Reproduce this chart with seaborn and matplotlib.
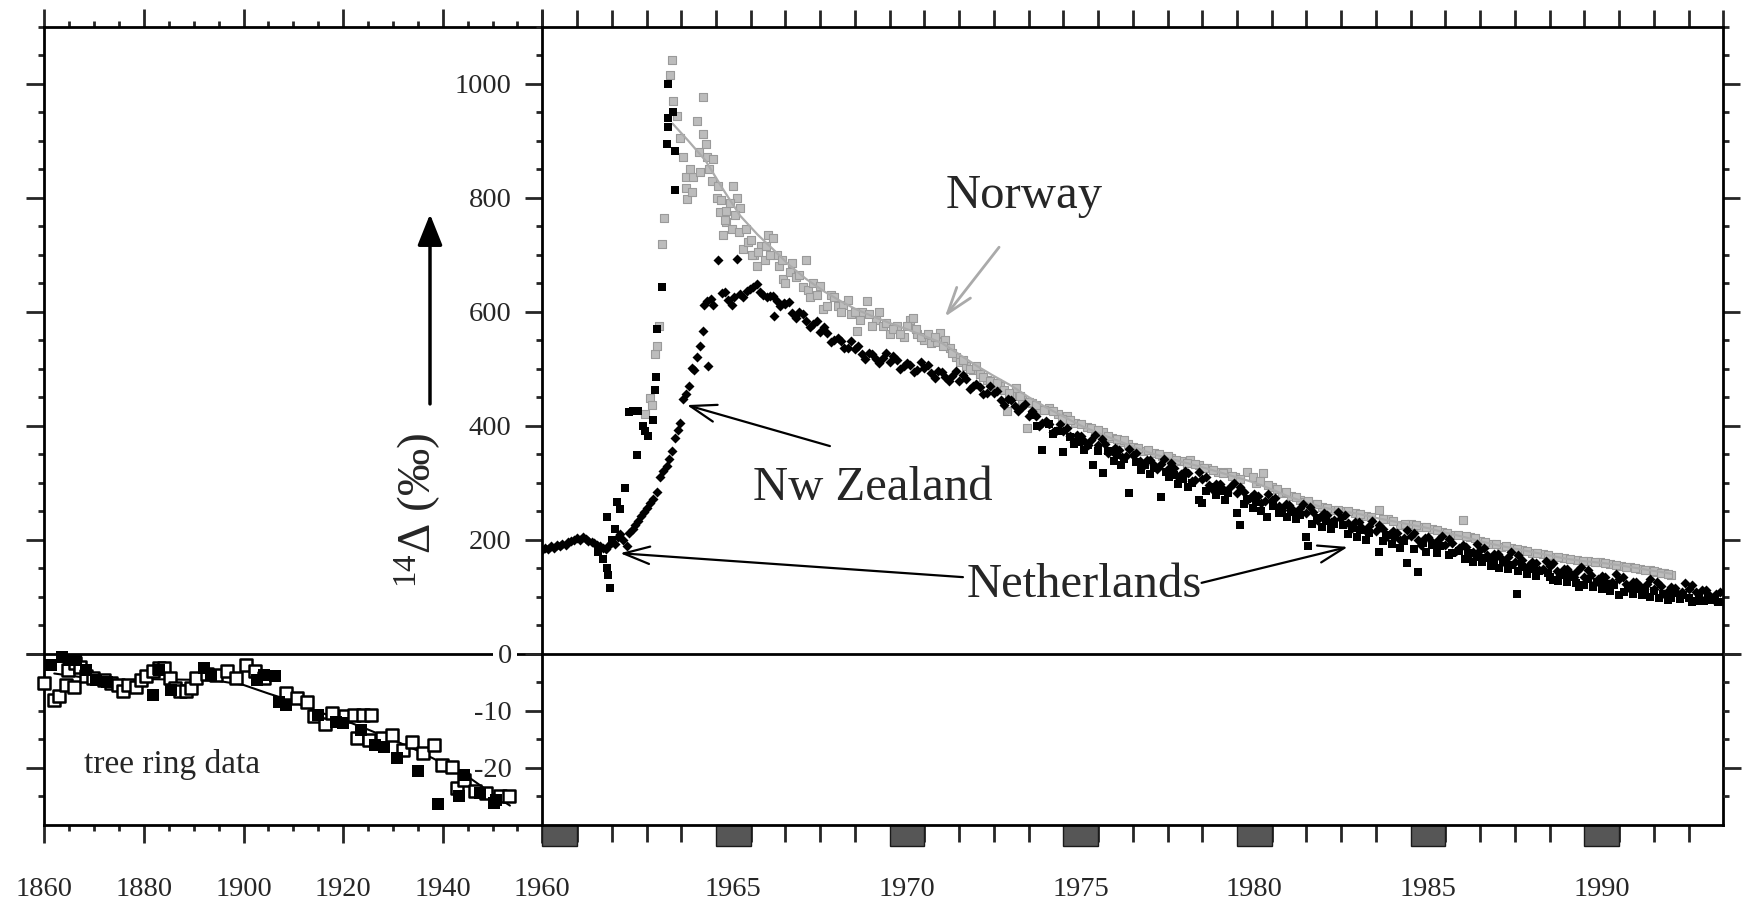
import matplotlib
matplotlib.use("Agg")
import matplotlib.pyplot as plt
import seaborn as sns
from matplotlib.ticker import MultipleLocator
from matplotlib.patches import Rectangle

# ---------------- data ----------------
# New Zealand (black diamonds)
nz_year = [1960.00,1960.08,1960.17,1960.25,1960.33,1960.42,1960.50,1960.58,1960.67,1960.75,1960.83,1960.92,
           1961.00,1961.08,1961.17,1961.25,1961.33,1961.42,1961.50,1961.58,1961.67,1961.75,1961.83,1961.92,
           1962.00,1962.08,1962.17,1962.25,1962.33,1962.43,1962.50,
           1962.60,1962.68,1962.76,1962.85,1962.92,
           1963.00,1963.10,1963.20,1963.30,1963.40,1963.48,1963.58,1963.66,1963.72,1963.82,1963.90,1963.96,
           1964.06,1964.15,1964.22,1964.30,1964.36,1964.44,1964.55,1964.62,1964.66,1964.73,1964.78,1964.85,1964.92,
           1965.07,1965.18,1965.26,1965.35,1965.45,1965.52,1965.60,1965.69,1965.78,1965.88,1965.97,
           1966.07,1966.17,1966.27,1966.36,1966.46,1966.56,1966.65,1966.68,1966.76,1966.85,1966.95,
           1967.0,1967.2,1967.4,1967.6,1967.8, 1968.0,1968.2,1968.4,1968.6,1968.8,
           1969.0,1969.2,1969.4,1969.6,1969.8, 1970.0,1970.2,1970.4,1970.6,1970.8,
           1971.0,1971.2,1971.4,1971.6,1971.8, 1972.0,1972.2,1972.4,1972.6,1972.8,
           1973.0,1973.2,1973.4,1973.6,1973.8, 1974.0,1974.2,1974.4,1974.6,1974.8,
           1975.0,1975.2,1975.4,1975.6,1975.8, 1976.0,1976.2,1976.4,1976.6,1976.8,
           1977.0,1977.2,1977.4,1977.6,1977.8, 1978.0,1978.2,1978.4,1978.6,1978.8,
           1979.0,1979.2,1979.4,1979.6,1979.8, 1980.0,1980.2,1980.4,1980.6,1980.8,
           1981.0,1981.2,1981.4,1981.6,1981.8, 1982.0,1982.2,1982.4,1982.6,1982.8,
           1983.0,1983.2,1983.4,1983.6,1983.8, 1984.0,1984.2,1984.4,1984.6,1984.8,
           1985.0,1985.2,1985.4,1985.6,1985.8, 1986.0,1986.2,1986.4,1986.6,1986.8,
           1987.0,1987.2,1987.4,1987.6,1987.8, 1988.0,1988.2,1988.4,1988.6,1988.8,
           1989.0,1989.2,1989.4,1989.6,1989.8, 1990.0,1990.2,1990.4,1990.6,1990.8,
           1991.0,1991.2,1991.4,1991.6,1991.8, 1992.0,1992.2,1992.4,1992.6,1992.8,
           1993.0,1993.2,1993.4,1993.6,1993.8]
nz_value = [182,185,184,188,186,190,189,193,191,195,197,200,
            202,199,204,201,198,196,194,190,188,186,184,190,
            196,192,205,209,200,189,212,
            218,226,232,241,248,
            255,264,272,284,310,320,329,342,355,378,392,404,
            446,455,469,501,498,521,540,566,612,618,505,622,612,
            690,632,635,620,612,625,693,631,625,636,640,
            644,648,635,630,625,628,628,592,618,610,615,
            614,598,599,583,579, 565,563,550,549,537,
            535,525,527,517,519, 511,515,505,507,497,
            501,492,495,485,487, 479,481,469,468,457,
            457,445,446,434,433, 417,416,404,403,391,
            391,381,383,373,375, 366,367,356,357,346,
            348,338,340,331,333, 324,325,315,316,305,
            306,296,298,289,292, 282,284,274,277,267,
            269,259,262,252,255, 246,249,240,243,234,
            238,229,231,221,224, 215,218,209,212,203,
            207,199,203,196,199, 190,194,185,187,178,
            181,172,175,167,170, 161,164,155,158,149,
            153,145,149,141,144, 135,138,130,134,126,
            130,122,126,118,122, 114,118,110,115,108,
            113,108,111,102,105]
nz_year_b = [1967.1,1967.3,1967.5,1967.7,1967.9, 1968.1,1968.3,1968.5,1968.7,1968.9,
             1969.1,1969.3,1969.5,1969.7,1969.9, 1970.1,1970.3,1970.5,1970.7,1970.9,
             1971.1,1971.3,1971.5,1971.7,1971.9, 1972.1,1972.3,1972.5,1972.7,1972.9,
             1973.1,1973.3,1973.5,1973.7,1973.9, 1974.1,1974.3,1974.5,1974.7,1974.9,
             1975.1,1975.3,1975.5,1975.7,1975.9, 1976.1,1976.3,1976.5,1976.7,1976.9,
             1977.1,1977.3,1977.5,1977.7,1977.9, 1978.1,1978.3,1978.5,1978.7,1978.9,
             1979.1,1979.3,1979.5,1979.7,1979.9, 1980.1,1980.3,1980.5,1980.7,1980.9,
             1981.1,1981.3,1981.5,1981.7,1981.9, 1982.1,1982.3,1982.5,1982.7,1982.9,
             1983.1,1983.3,1983.5,1983.7,1983.9, 1984.1,1984.3,1984.5,1984.7,1984.9,
             1985.1,1985.3,1985.5,1985.7,1985.9, 1986.1,1986.3,1986.5,1986.7,1986.9,
             1987.1,1987.3,1987.5,1987.7,1987.9, 1988.1,1988.3,1988.5,1988.7,1988.9,
             1989.1,1989.3,1989.5,1989.7,1989.9, 1990.1,1990.3,1990.5,1990.7,1990.9,
             1991.1,1991.3,1991.5,1991.7,1991.9, 1992.1,1992.3,1992.5,1992.7,1992.9,
             1993.1,1993.3,1993.5,1993.7,1993.9]
nz_value_b = [617,589,595,573,584, 573,547,554,536,548,
              539,516,526,510,527, 522,500,510,494,511,
              506,484,494,478,495, 489,465,473,455,469,
              460,436,445,426,437, 426,400,408,389,403,
              395,372,382,366,383, 376,352,361,344,359,
              352,329,340,324,341, 334,310,320,303,318,
              310,287,298,283,299, 292,269,280,264,280,
              273,251,261,246,263, 257,235,246,231,248,
              243,220,230,215,232, 226,204,215,200,217,
              212,191,204,190,207, 201,180,190,175,192,
              186,164,175,161,178, 172,150,161,146,163,
              158,137,149,135,152, 146,124,136,122,140,
              135,114,126,112,130, 125,104,117,104,123,
              120,100,111,96,108]

# Netherlands (black squares)
nl_year = [1961.60,1961.75,1961.85,1961.85,1961.90,1961.95,1962.00,1962.10,1962.15,1962.24,1962.38,1962.50,
           1962.60,1962.72,1962.76,1962.90,1962.95,1963.05,1963.20,1963.24,1963.27,1963.30,1963.44,
           1963.58,1963.63,1963.63,1963.63,1963.77,1963.82,1963.82,
           1974.10,1974.40,1974.60,1974.85,1975.00,1975.20,1975.45,1975.70,1975.86,1976.15,1976.30,1976.55,
           1976.75,1976.90,1977.10,1977.35,1977.60,1977.80,1977.95,1978.20,1978.45,1978.70,1978.90,1979.00,
           1979.25,1979.50,1979.75,1980.00,1980.10,1980.30,1980.55,1980.85,1981.05,1981.30,1981.55,1981.80,
           1982.00,1982.05,1982.30,1982.55,1982.80,1983.05,1983.30,1983.55,1983.80,1984.10,1984.30,1984.55,
           1984.80,1984.90,1985.20,1985.35,1985.60,1985.85,1986.20,1986.40,1986.65,1986.90,1987.15,1987.40,
           1987.65,1987.90,1988.05,1988.20,1988.45,1988.70,1988.95,1989.10,1989.35,1989.60,1989.85,1990.10,
           1990.35,1990.60,1990.85,1991.00,1991.25,1991.50,1991.75,1992.00,1992.25,1992.40,1992.60,1992.85,
           1993.10,1993.30,1993.55,1993.75,1993.95]
nl_value = [178,165,150,240,137,115,199,218,265,254,290,423,
            425,349,426,400,391,381,410,462,485,570,644,
            895,924,940,999,950,882,813,
            418,357,402,390,354,380,372,366,331,316,356,348,
            342,281,336,330,326,275,318,314,306,300,270,264,
            292,286,282,246,226,272,266,240,258,252,248,243,
            205,188,238,233,228,226,220,216,212,179,208,204,
            198,158,143,194,190,188,176,180,176,170,168,163,
            160,156,105,152,149,145,142,129,138,134,117,130,
            126,122,120,102,118,114,112,109,104,94,106,103,
            91,104,99,96,91]
nl_year_b = [1974.25,1974.70,1975.30,1975.60,1976.00,1976.45,1976.65,1977.25,1977.50,1978.05,1978.30,1978.60,
             1979.10,1979.40,1979.65,1980.20,1980.45,1980.70,1981.20,1981.45,1981.70,1982.15,1982.45,1982.70,
             1983.20,1983.45,1983.70,1984.20,1984.45,1984.70,1985.10,1985.45,1985.75,1986.10,1986.55,1986.80,
             1987.05,1987.30,1987.55,1987.80,1988.10,1988.35,1988.60,1989.00,1989.25,1989.50,1989.75,1990.00,
             1990.25,1990.50,1990.75,1991.15,1991.40,1991.65,1991.90,1992.15,1992.50,1992.75,1993.00,1993.20,
             1993.45,1993.65,1993.85]
nl_value_b = [400,385,368,358,355,338,330,322,315,310,298,292,
              285,278,270,262,255,250,246,240,236,228,222,218,
              210,204,200,198,192,186,184,178,176,172,166,160,
              160,154,150,148,144,140,136,134,128,126,124,120,
              116,113,110,108,104,103,100,98,97,95,98,93,
              92,94,90]

# Norway (grey squares)
no_year = [1962.95,1963.10,1963.15,1963.25,1963.30,1963.35,1963.44,1963.49,1963.68,1963.72,1963.77,1963.87,
           1963.96,1964.06,1964.15,1964.15,1964.18,1964.35,1964.44,1964.64,1964.64,1964.70,1964.73,1964.92,
           1964.88,1965.02,1965.12,1965.30,1965.20,1965.30,1965.50,1965.60,1965.70,1965.79,1965.93,1966.10,
           1966.17,1966.30,1966.50,1966.65,1966.75,1966.94,1967.13,1967.30,1967.50,1967.60,1967.65,1967.80,
           1968.09,1968.30,1968.50,1968.67,1968.90,1969.05,1969.20,1969.34,1969.60,1969.80,1970.00,1970.20,
           1970.40,1970.60,1970.67,1970.80,1971.00,1971.20,1971.35,1971.45,1971.60,1971.74,1971.90,1972.02,
           1972.20,1972.40,1972.60,1972.80,1973.00,1973.17,1973.37,1973.50,1973.65,1973.80,1973.94,1974.10,
           1974.30,1974.60,1974.85,1975.10,1975.35,1975.67,1975.90,1976.15,1976.40,1976.65,1976.85,1977.00,
           1977.30,1977.60,1977.85,1978.10,1978.40,1978.65,1978.90,1979.15,1979.45,1979.70,1979.95,1980.30,
           1980.55,1980.75,1981.00,1981.30,1981.55,1981.80,1981.95,1982.20,1982.45,1982.77,1983.00,1983.40,
           1983.70,1984.10,1984.35,1984.70,1985.00,1985.30,1985.60,1985.90,1986.20,1986.50,1986.70,1987.00,
           1987.30,1987.60,1987.90,1988.20,1988.50,1988.80,1989.10,1989.40,1989.80,1990.10,1990.45,1990.75,
           1991.05,1991.30,1991.60,1991.90,1992.10,1992.30,1992.50]
no_value = [420,449,436,525,540,575,719,765,1015,1041,969,943,
            904,872,836,817,797,836,934,976,911,894,872,868,
            830,800,774,777,735,758,820,800,781,709,722,700,
            680,715,735,729,700,657,670,660,644,690,638,650,
            605,630,610,612,595,566,600,618,585,575,560,575,
            555,586,589,560,550,545,547,562,550,536,520,512,
            505,498,490,480,470,469,425,455,466,445,395,440,
            428,431,420,416,405,398,392,388,378,372,368,363,
            355,351,347,343,338,340,330,325,318,319,310,319,
            300,316,292,282,276,270,266,262,257,252,250,246,
            242,252,236,225,228,222,219,214,208,234,204,198,
            193,187,186,182,176,174,170,167,164,163,161,157,
            154,152,149,146,143,141,138]
no_year_b = [1964.25,1964.30,1964.50,1964.55,1964.80,1965.05,1965.15,1965.25,1965.40,1965.45,1965.55,1965.65,
             1965.85,1966.00,1966.05,1966.20,1966.40,1966.45,1966.55,1966.80,1966.90,1967.00,1967.20,1967.40,
             1967.70,1967.90,1968.00,1968.20,1968.40,1968.60,1968.80,1969.00,1969.15,1969.40,1969.50,1969.70,
             1969.90,1970.10,1970.30,1970.50,1970.75,1970.90,1971.10,1971.30,1971.55,1971.80,1972.10,1972.30,
             1972.50,1972.70,1972.90,1973.10,1973.30,1973.45,1973.75,1974.00,1974.20,1974.45,1974.70,1974.95,
             1975.20,1975.50,1975.80,1976.00,1976.30,1976.55,1976.75,1977.15,1977.45,1977.75,1978.00,1978.25,
             1978.55,1978.80,1979.05,1979.30,1979.60,1979.85,1980.10,1980.45,1980.65,1980.90,1981.15,1981.40,
             1981.70,1982.05,1982.30,1982.60,1982.90,1983.20,1983.55,1983.85,1984.20,1984.50,1984.85,1985.15,
             1985.45,1985.75,1986.05,1986.35,1986.60,1986.85,1987.15,1987.45,1987.75,1988.05,1988.35,1988.65,
             1988.95,1989.25,1989.60,1989.95,1990.30,1990.60,1990.90,1991.20,1991.45,1991.75,1992.00,1992.20,
             1992.40]
no_value_b = [850,810,880,845,850,820,795,760,790,745,770,740,
              745,725,700,705,690,715,700,680,690,650,685,665,
              625,630,645,610,625,600,620,600,585,595,575,600,
              580,570,560,575,570,555,560,555,540,528,515,500,
              505,485,478,475,462,458,452,442,436,428,425,412,
              410,402,396,392,382,376,374,360,358,350,346,340,
              334,332,326,322,316,312,306,310,302,296,288,284,
              274,268,262,256,252,250,244,240,236,232,228,226,
              222,216,212,208,206,202,196,192,188,184,180,176,
              172,170,166,163,160,158,156,152,150,147,144,142,
              140]

# Norway smoothed curve (grey line)
no_line_year = [1963.75,1964.2,1964.7,1965.2,1965.7,1966.2,1966.65,1967.1,1967.6,1968.1,1968.6,1969.0,1969.5,
                1970.0,1970.5,1971.0,1971.5,1972.0,1972.5,1973.0,1973.5,1974.0,1974.5,1975.0,1975.5,1976.0,
                1976.5,1977.0,1977.5,1978.0,1978.5,1979.0,1979.5,1980.0,1980.5,1981.0,1981.5,1982.0,1982.5,
                1983.0,1983.5,1984.0,1984.5,1985.0,1985.5,1986.0,1986.5,1987.0,1987.5,1988.0,1988.5,1989.0,
                1989.5,1990.0,1990.5,1991.0,1991.5,1992.0,1992.5]
no_line_value = [930,900,865,815,768,735,709,682,657,636,618,605,592,580,569,557,545,525,505,487,470,450,432,
                 416,400,387,375,363,352,343,335,327,318,309,300,288,275,265,256,250,245,238,232,226,220,212,
                 205,197,190,184,178,172,166,162,159,155,150,145,140]

# tree ring data (lower left panel)
tree_open_year = [1859.9,1861.9,1863.0,1864.4,1864.7,1865.9,1866.2,1867.2,1868.3,1869.7,1871.9,1873.3,1874.8,
                  1875.8,1876.9,1878.4,1879.4,1880.5,1881.9,1883.0,1884.1,1885.2,1886.2,1887.3,1888.4,1889.5,
                  1890.5,1892.7,1894.5,1896.6,1898.4,1900.6,1902.4,1904.2,1908.5,1910.7,1912.8,1914.2,1916.4,
                  1917.8,1920.3,1922.1,1923.9,1925.7,1922.8,1925.3,1927.8,1929.9,1932.1,1933.9,1936.1,1938.2,
                  1939.9,1941.8,1942.9,1944.3,1946.5,1948.6,1951.5,1953.3]
tree_open_value = [-5.2,-8.1,-7.5,-5.5,-2.9,-5.8,-1.7,-2.3,-4.0,-4.3,-4.6,-5.2,-5.5,-6.6,-5.5,-5.8,-4.6,-4.0,
                   -3.1,-2.5,-2.5,-4.3,-6.1,-6.6,-6.6,-6.1,-4.3,-3.5,-3.7,-3.1,-4.3,-2.0,-3.1,-4.3,-6.9,-7.8,
                   -8.4,-11.0,-12.4,-10.4,-11.0,-10.7,-10.7,-10.7,-14.8,-15.1,-14.8,-14.2,-16.9,-15.4,-17.4,
                   -16.0,-19.5,-19.8,-23.6,-22.1,-24.1,-24.4,-25.0,-25.0]
tree_fill_year = [1861.4,1863.6,1865.0,1866.4,1868.3,1870.4,1872.6,1881.9,1883.0,1885.5,1892.0,1893.4,1902.8,
                  1904.2,1906.4,1907.1,1908.5,1915.0,1918.6,1920.0,1923.6,1926.5,1928.3,1930.8,1935.0,1939.0,
                  1943.3,1944.3,1947.5,1950.4,1950.8]
tree_fill_value = [-2.0,-0.6,-1.2,-1.2,-2.9,-4.6,-4.9,-7.2,-2.9,-6.4,-2.5,-3.7,-4.6,-3.7,-4.0,-8.4,-9.0,-10.7,
                   -11.9,-12.1,-13.3,-16.0,-16.3,-18.3,-20.6,-26.4,-25.0,-21.3,-24.4,-26.1,-25.6]
tree_line_year = [1862,1868,1875,1882,1890,1895,1900,1905,1910,1915,1920,1925,1930,1935,1940,1945,1950,1953.5]
tree_line_value = [-3.5,-4.2,-4.8,-4.5,-4.6,-4.8,-5.5,-7.0,-8.4,-10.2,-11.6,-13.3,-15.1,-17.0,-19.2,-21.5,-24.6,-26.6]

# axis labels / ticks
left_xticks = [1860, 1880, 1900, 1920, 1940, 1960]
right_label_years = [1965, 1970, 1975, 1980, 1985, 1990]
box_years = [1960, 1965, 1970, 1975, 1980, 1985, 1990]
upper_yticks = [0, 200, 400, 600, 800, 1000]

# ---------------- style ----------------
sns.set_style("ticks")
plt.rcParams["font.family"] = ["Liberation Serif", "DejaVu Serif"]
plt.rcParams["mathtext.fontset"] = "custom"
plt.rcParams["mathtext.rm"] = "Liberation Serif"
plt.rcParams["mathtext.it"] = "Liberation Serif:italic"

W, H = 1747, 902
fig = plt.figure(figsize=(W / 100, H / 100), dpi=100)
fig.patch.set_facecolor("white")


def rect(x0, x1, y0, y1):
    return [x0 / W, 1 - y1 / H, (x1 - x0) / W, (y1 - y0) / H]


XL, XD, XR = 44.3, 542.3, 1723.3
YT, YZ, YB = 26.7, 653.5, 825.0
axLT = fig.add_axes(rect(XL, XD, YT, YZ))
axLB = fig.add_axes(rect(XL, XD, YZ, YB))
axRT = fig.add_axes(rect(XD, XR, YT, YZ))
axRB = fig.add_axes(rect(XD, XR, YZ, YB))

# ---------------- plotting ----------------
sns.lineplot(x=tree_line_year, y=tree_line_value, ax=axLB, color="black", linewidth=1.5,
             sort=False, estimator=None, zorder=3)
sns.scatterplot(x=tree_open_year, y=tree_open_value, ax=axLB, marker="s", s=70,
                facecolor="white", edgecolor="black", linewidth=1.8, zorder=4, clip_on=False, legend=False)
sns.scatterplot(x=tree_fill_year, y=tree_fill_value, ax=axLB, marker="s", s=70,
                color="black", linewidth=0, zorder=5, clip_on=False, legend=False)

sns.scatterplot(x=no_year + no_year_b, y=no_value + no_value_b, ax=axRT, marker="s", s=30,
                color="#bcbcbc", edgecolor="#9a9a9a", linewidth=0.8, zorder=3, legend=False)
sns.lineplot(x=no_line_year, y=no_line_value, ax=axRT, color="#ababab", linewidth=1.6,
             sort=False, estimator=None, zorder=4)
sns.scatterplot(x=nz_year + nz_year_b, y=nz_value + nz_value_b, ax=axRT, marker="D", s=26,
                color="black", linewidth=0, zorder=5, legend=False)
sns.scatterplot(x=nl_year + nl_year_b, y=nl_value + nl_value_b, ax=axRT, marker="s", s=38,
                color="black", linewidth=0, zorder=6, legend=False)

# ---------------- axes formatting ----------------
for ax in (axLT, axLB, axRT, axRB):
    ax.set_facecolor("none")
    ax.set_xlabel("")
    ax.set_ylabel("")
    for s in ax.spines.values():
        s.set_linewidth(2.0)
        s.set_color("black")

MAJ, MIN, W2 = 13, 4.5, 2.0
FS = 20.5

# left top
axLT.set_xlim(1860, 1960)
axLT.set_ylim(0, 1100)
axLT.spines["right"].set_visible(False)
axLT.spines["bottom"].set_visible(False)
axLT.xaxis.set_ticks_position("top")
axLT.yaxis.set_ticks_position("left")
axLT.xaxis.set_major_locator(MultipleLocator(20))
axLT.xaxis.set_minor_locator(MultipleLocator(5))
axLT.yaxis.set_major_locator(MultipleLocator(200))
axLT.yaxis.set_minor_locator(MultipleLocator(50))
axLT.tick_params(which="both", direction="out", width=W2, labeltop=False, labelleft=False,
                 labelbottom=False)
axLT.tick_params(which="major", length=MAJ)
axLT.tick_params(which="minor", length=MIN)

# left bottom
axLB.set_xlim(1860, 1960)
axLB.set_ylim(-30, 0)
axLB.spines["right"].set_visible(False)
axLB.xaxis.set_ticks_position("bottom")
axLB.yaxis.set_ticks_position("left")
axLB.set_xticks(left_xticks, labels=[str(v) for v in left_xticks])
axLB.xaxis.set_minor_locator(MultipleLocator(5))
axLB.set_yticks([-20, 0])
axLB.set_yticks([-25, -15, -10, -5], minor=True)
axLB.tick_params(which="both", direction="out", width=W2, labelleft=False)
axLB.tick_params(which="major", length=MAJ)
axLB.tick_params(which="minor", length=MIN)
axLB.tick_params(axis="x", which="major", labelsize=FS, pad=24.5)

# right top
axRT.set_xlim(1960, 1994)
axRT.set_ylim(0, 1100)
axRT.spines["bottom"].set_visible(False)
axRT.xaxis.set_ticks_position("top")
axRT.xaxis.set_major_locator(MultipleLocator(1))
axRT.yaxis.set_ticks_position("both")
axRT.set_yticks(upper_yticks, labels=[""] + [str(v) for v in upper_yticks[1:]])
axRT.yaxis.set_minor_locator(MultipleLocator(50))
axRT.tick_params(which="both", direction="out", width=W2, labeltop=False, labelright=False)
axRT.tick_params(which="major", length=12.5)
axRT.tick_params(which="minor", length=4)
axRT.tick_params(axis="y", which="major", labelsize=FS, pad=9.5)
axRT.annotate("0", xy=(0, 0), xycoords=("axes fraction", "data"), xytext=(-22, 0),
              textcoords="offset points", ha="right", va="center_baseline", fontsize=FS,
              bbox=dict(fc="white", ec="none", pad=3.5), annotation_clip=False, zorder=20)

# right bottom
axRB.set_xlim(1960, 1994)
axRB.set_ylim(-30, 0)
axRB.xaxis.set_ticks_position("bottom")
axRB.set_xticks([y + 0.5 for y in right_label_years], labels=[str(y) for y in right_label_years])
year_ticks = [y for y in range(1961, 1994) if y not in box_years]
axRB.set_xticks(year_ticks, minor=True)
axRB.yaxis.set_ticks_position("left")
axRB.set_yticks([-20, -10], labels=["-20", "-10"])
axRB.set_yticks([-25, -15, -5], minor=True)
axRB.tick_params(which="both", direction="out", width=W2)
axRB.tick_params(axis="x", which="major", length=0, labelsize=FS, pad=37.5)
axRB.tick_params(axis="x", which="minor", length=12)
axRB.tick_params(axis="y", which="major", length=12.5, labelsize=FS, pad=9.5)
axRB.tick_params(axis="y", which="minor", length=4)
for yr in box_years:
    axRB.add_patch(Rectangle((yr, -0.1225), 1, 0.1225, transform=axRB.get_xaxis_transform(),
                             facecolor="#565656", edgecolor="#1a1a1a", linewidth=1, clip_on=False))

axRB2 = axRB.twinx()
axRB2.set_ylim(-30, 0)
for s in axRB2.spines.values():
    s.set_visible(False)
axRB2.set_yticks([-20, 0], labels=["", ""])
axRB2.set_yticks([-25, -15, -10, -5], minor=True)
axRB2.tick_params(which="both", direction="out", width=W2, labelright=False)
axRB2.tick_params(which="major", length=MAJ)
axRB2.tick_params(which="minor", length=MIN)

# ---------------- annotations ----------------
axLB.text(1868.0, -20.9, "tree ring data", fontsize=24, ha="left", va="baseline")

axLT.annotate("", xy=(1937.45, 771), xytext=(1937.45, 438),
              arrowprops=dict(arrowstyle="-|>,head_length=0.95,head_width=0.38", lw=2.5,
                              color="black", mutation_scale=20, shrinkA=0, shrinkB=0))
axLT.text(1935.0, 252, r"$^{14}$Δ (‰)", rotation=90, ha="center", va="center", fontsize=34)

arrow_kw = dict(arrowstyle="->,head_length=0.75,head_width=0.25", lw=1.6, color="black",
                mutation_scale=25, shrinkA=0, shrinkB=0)
axRT.annotate("", xy=(1964.16, 436), xytext=(1968.28, 364), arrowprops=arrow_kw)
axRT.text(1966.07, 269, "Nw Zealand", fontsize=35, ha="left", va="baseline", zorder=10)

axRT.annotate("", xy=(1962.24, 176), xytext=(1972.11, 134), arrowprops=arrow_kw)
axRT.annotate("", xy=(1983.19, 187), xytext=(1978.98, 124), arrowprops=arrow_kw)
axRT.text(1972.22, 99, "Netherlands", fontsize=35, ha="left", va="baseline", zorder=10)

grey_kw = dict(arrow_kw)
grey_kw["color"] = "#aaaaaa"
grey_kw["lw"] = 2.0
axRT.annotate("", xy=(1971.59, 591), xytext=(1973.15, 713), arrowprops=grey_kw)
axRT.text(1971.6, 782, "Norway", fontsize=35, ha="left", va="baseline", zorder=10)

fig.savefig("out.png", dpi=100, facecolor="white")
